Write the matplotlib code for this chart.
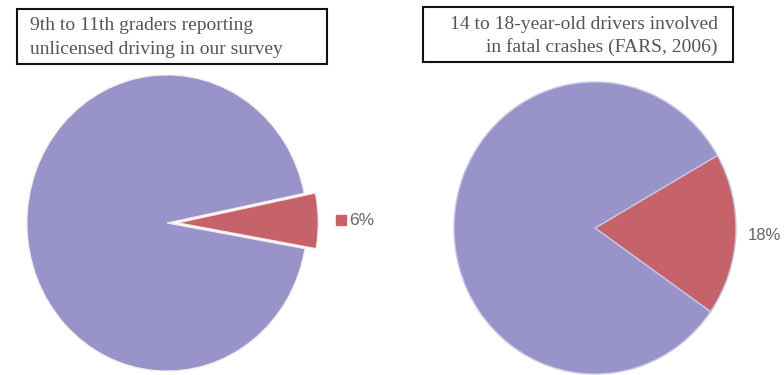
import numpy as np
import matplotlib.pyplot as plt
from matplotlib.patches import Rectangle

# Shares (percent) for the two pies
survey_labels = ["Unlicensed", "Licensed"]
survey_values = [6, 94]
fars_labels = ["14-18 year olds", "Other drivers"]
fars_values = [18, 82]

survey_title = ["9th to 11th graders reporting", "unlicensed driving in our survey"]
fars_title = ["14 to 18-year-old drivers involved", "in fatal crashes (FARS, 2006)"]

PURPLE = "#9893c8"
RED = "#c6626a"
TEXT_GRAY = "#555555"

W, H = 784, 375
fig = plt.figure(figsize=(W / 100, H / 100), dpi=100)
fig.patch.set_facecolor("white")


def fx(x):
    return x / W


def fy(y):
    return 1 - y / H


def pie_axes(cx, cy, rx, ry, pad=1.3):
    ax = fig.add_axes([fx(cx - pad * rx), fy(cy + pad * ry),
                       2 * pad * rx / W, 2 * pad * ry / H])
    return ax


def finish(ax, pad=1.3):
    ax.set_aspect("auto")
    ax.set_xlim(-pad, pad)
    ax.set_ylim(-pad, pad)
    ax.axis("off")


def title_box(x0, y0, x1, y1, lines, tx, baselines, ha):
    fig.patches.append(Rectangle((fx(x0), fy(y1)), (x1 - x0) / W, (y1 - y0) / H,
                                 transform=fig.transFigure, fill=False,
                                 edgecolor="#111111", linewidth=1.5))
    for line, by in zip(lines, baselines):
        fig.text(fx(tx), fy(by), line, ha=ha, va="baseline",
                 family="Liberation Serif", fontsize=14, color=TEXT_GRAY)


# left pie: survey, small slice pulled out
ax1 = pie_axes(167, 223, 140, 148)
wedges1, _ = ax1.pie(survey_values, colors=[RED, PURPLE], startangle=-10,
                     explode=[0.08, 0],
                     wedgeprops=dict(edgecolor="#f4e6ea", linewidth=0.8))
finish(ax1)
w = wedges1[0]
mid = np.deg2rad((w.theta1 + w.theta2) / 2)
ax1.plot(1.24 * np.cos(mid), 1.24 * np.sin(mid), marker="s", color=RED,
         markersize=7, linestyle="none")
ax1.text(1.30 * np.cos(mid), 1.24 * np.sin(mid), f"{survey_values[0]}%",
         ha="left", va="center", family="Liberation Sans", fontsize=12.5,
         color="#666666")

# right pie: FARS data
ax2 = pie_axes(595, 228, 141, 146)
wedges2, _ = ax2.pie(fars_values, colors=[RED, PURPLE], startangle=-35,
                     wedgeprops=dict(edgecolor="#c9c5e6", linewidth=1))
finish(ax2)
w = wedges2[0]
mid = np.deg2rad((w.theta1 + w.theta2) / 2)
ax2.text(1.08, 1.1 * np.sin(mid), f"{fars_values[0]}%",
         ha="left", va="center", family="Liberation Sans", fontsize=12,
         color="#666666")

title_box(17, 9, 327, 64, survey_title, 30, [30, 54], "left")
title_box(423, 7, 733, 62, fars_title, 718, [29, 52], "right")

fig.savefig("out.png", dpi=100)
